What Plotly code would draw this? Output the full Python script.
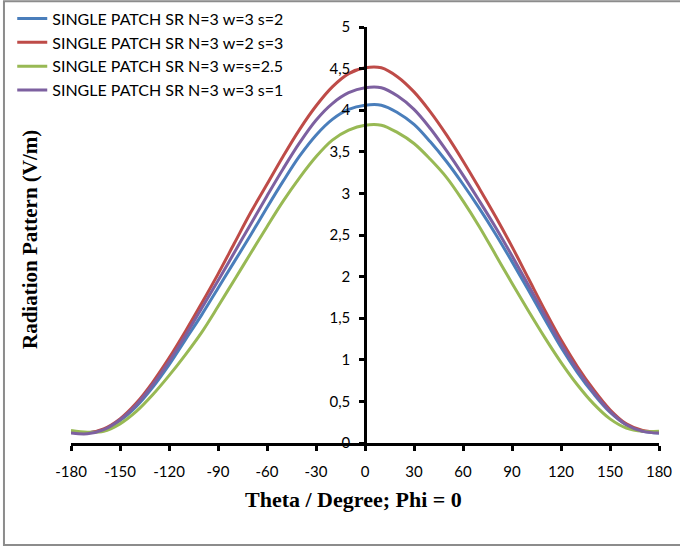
import plotly.graph_objects as go

theta = list(range(-180, 181, 10))

s_blue = [0.13, 0.12, 0.16, 0.27, 0.44, 0.67, 0.94, 1.24, 1.54, 1.86, 2.18, 2.50, 2.83, 3.15, 3.45, 3.70, 3.89, 4.01, 4.06,
          4.06, 3.97, 3.83, 3.62, 3.38, 3.11, 2.82, 2.51, 2.18, 1.84, 1.49, 1.15, 0.85, 0.59, 0.37, 0.22, 0.14, 0.12]
s_red = [0.13, 0.12, 0.17, 0.29, 0.48, 0.73, 1.02, 1.34, 1.68, 2.03, 2.40, 2.77, 3.11, 3.45, 3.77, 4.05, 4.28, 4.44, 4.51,
         4.51, 4.40, 4.22, 3.98, 3.70, 3.39, 3.06, 2.72, 2.36, 1.98, 1.60, 1.24, 0.92, 0.64, 0.40, 0.23, 0.15, 0.13]
s_green = [0.15, 0.13, 0.14, 0.23, 0.38, 0.58, 0.81, 1.06, 1.33, 1.64, 1.96, 2.28, 2.60, 2.91, 3.19, 3.44, 3.64, 3.76, 3.82,
           3.82, 3.73, 3.60, 3.41, 3.19, 2.91, 2.60, 2.26, 1.92, 1.59, 1.27, 0.97, 0.70, 0.47, 0.29, 0.18, 0.14, 0.14]
s_purple = [0.12, 0.11, 0.16, 0.28, 0.46, 0.70, 0.98, 1.29, 1.62, 1.95, 2.29, 2.63, 2.97, 3.30, 3.61, 3.88, 4.08, 4.21, 4.27,
            4.27, 4.17, 4.01, 3.78, 3.51, 3.22, 2.91, 2.59, 2.25, 1.90, 1.54, 1.19, 0.88, 0.61, 0.38, 0.22, 0.14, 0.12]

series_names = ["SINGLE PATCH SR N=3 w=3 s=2", "SINGLE PATCH SR N=3 w=2 s=3",
                "SINGLE PATCH SR N=3 w=s=2.5", "SINGLE PATCH SR N=3 w=3 s=1"]
series_colors = ["#4A7EBB", "#BE4B48", "#98B954", "#7D60A0"]

x_tickvals = list(range(-180, 181, 30))
x_ticktext = ["-180", "-150", "-120", "-90", "-60", "-30", "0", "30", "60", "90", "120", "150", "180"]

x_title = "Theta / Degree; Phi = 0"
y_title = "Radiation Pattern (V/m)"

fig = go.Figure()
for name, vals, col in zip(series_names, [s_blue, s_red, s_green, s_purple], series_colors):
    fig.add_trace(go.Scatter(x=theta, y=vals, mode="lines", name=name,
                             line=dict(color=col, width=3, shape="spline", smoothing=1.0)))

tick_font = dict(family="Lato, Open Sans, sans-serif", size=15, color="#000000")

fig.update_layout(
    width=680, height=546,
    margin=dict(l=71, r=21, t=27, b=103, autoexpand=False),
    paper_bgcolor="white", plot_bgcolor="white",
    separators=", ",
    showlegend=True,
    legend=dict(xref="container", yref="container", x=0.018, y=0.997, xanchor="left", yanchor="top",
                font=dict(family="Lato, Open Sans, sans-serif", size=16, color="#000000"),
                bgcolor="rgba(0,0,0,0)", tracegroupgap=0, itemwidth=30),
    xaxis=dict(range=[-180, 180], tickvals=x_tickvals, ticktext=x_ticktext,
               showgrid=False, zeroline=False, showline=True, linecolor="black", linewidth=2.5,
               ticks="outside", ticklen=5, tickwidth=2.5, tickcolor="black",
               tickfont=tick_font, ticklabelstandoff=8),
    yaxis=dict(range=[0, 5], dtick=0.5, tick0=0, anchor="free", position=0.5,
               showgrid=False, zeroline=False, showline=True, linecolor="black", linewidth=2.5,
               ticks="outside", ticklen=5, tickwidth=2.5, tickcolor="black",
               tickfont=tick_font, ticklabelstandoff=6),
    annotations=[
        dict(text=f"<b>{x_title}</b>", xref="paper", yref="paper", x=0.48, y=-0.137,
             xanchor="center", yanchor="middle", showarrow=False,
             font=dict(family="Liberation Serif, Times New Roman, serif", size=22, color="black")),
        dict(text=f"<b>{y_title}</b>", xref="paper", yref="paper", x=-0.07, y=0.49,
             xanchor="center", yanchor="middle", showarrow=False, textangle=-90,
             font=dict(family="Liberation Serif, Times New Roman, serif", size=21, color="black")),
    ],
    shapes=[dict(type="rect", xref="paper", yref="paper", x0=-0.114, x1=1.3, y0=-0.245, y1=1.062,
                 line=dict(color="#8C8C8C", width=2), fillcolor="rgba(0,0,0,0)", layer="below")],
)

fig.write_html("out.html", config={"displayModeBar": False},
               post_script="document.body.style.margin='0px';")
